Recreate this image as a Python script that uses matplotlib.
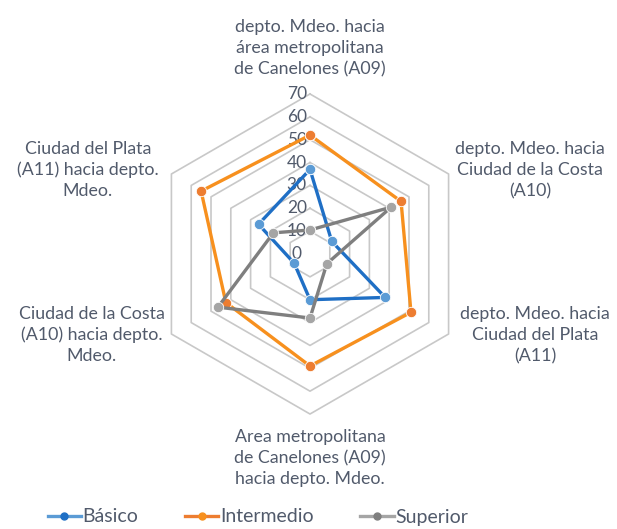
import numpy as np
import matplotlib
matplotlib.use("Agg")
import matplotlib.pyplot as plt
from matplotlib.lines import Line2D

plt.rcParams["font.family"] = ["Lato", "DejaVu Sans"]

# ---------------------------
# Data (clockwise from top)
# ---------------------------
categories = [
    "depto. Mdeo. hacia\nárea metropolitana\nde Canelones (A09)",
    "depto. Mdeo. hacia\nCiudad de la Costa\n(A10)",
    "depto. Mdeo. hacia\nCiudad del Plata\n(A11)",
    "Area metropolitana\nde Canelones (A09)\nhacia depto. Mdeo.",
    "Ciudad de la Costa\n(A10) hacia depto.\nMdeo.",
    "Ciudad del Plata\n(A11) hacia depto.\nMdeo.",
]
basico = [37, 11, 38, 20, 8, 26]
intermedio = [52, 46, 51, 49, 42.5, 55]
superior = [10.5, 41, 8.5, 28, 46.5, 18.5]
ticks = [0, 10, 20, 30, 40, 50, 60, 70]

series = [
    ("Básico", basico, "#1F6FC5", "#5B9BD5"),
    ("Intermedio", intermedio, "#F7901E", "#ED7D31"),
    ("Superior", superior, "#7F7F7F", "#A5A5A5"),
]

text_color = "#515A6B"
grid_color = "#C8C8C8"

# ---------------------------
# Geometry
# ---------------------------
W, H = 617, 529
cx, cy = 310, 254          # centre in pixels (from top)
scale = 2.286              # pixels per data unit

n = len(categories)
angles = np.pi / 2 - np.arange(n) * 2 * np.pi / n


def to_xy(values):
    v = np.asarray(values, dtype=float)
    x = v * np.cos(angles)
    y = v * np.sin(angles)
    return np.append(x, x[0]), np.append(y, y[0])


fig = plt.figure(figsize=(W / 100, H / 100), dpi=100)
ax = fig.add_axes([0, 0, 1, 1])
ax.set_xlim(-cx / scale, (W - cx) / scale)
ax.set_ylim(-(H - cy) / scale, cy / scale)
ax.set_aspect("equal")
ax.axis("off")

# hexagonal grid
for t in ticks[1:]:
    gx, gy = to_xy([t] * n)
    ax.plot(gx, gy, color=grid_color, lw=1.2, zorder=1)

# tick labels
for t in ticks:
    ax.text(-5.8, t, str(t), ha="center", va="center",
            fontsize=12.5, color=text_color, zorder=2)

# series
for name, vals, lc, mc in series:
    x, y = to_xy(vals)
    ax.plot(x, y, color=lc, lw=2.4, marker="o", markersize=7.5,
            markerfacecolor=mc, markeredgecolor="white",
            markeredgewidth=0.6, label=name, zorder=3)

# category labels (pixel positions)
label_pos = [(310, 48), (530, 170), (535, 335), (310, 458), (92, 335), (88, 170)]
for lab, (px, py) in zip(categories, label_pos):
    fig.text(px / W, 1 - py / H, lab, ha="center", va="center",
             fontsize=12.8, color=text_color, linespacing=1.38)

# legend
handles = [Line2D([0], [0], color=mc, lw=2.4, marker="o", markersize=5,
                  markerfacecolor=lc, markeredgecolor=lc)
           for _, _, lc, mc in series]
leg = fig.legend(handles, [s[0] for s in series], loc="center",
                 bbox_to_anchor=(258 / W, 1 - 517 / H), ncol=3, frameon=False,
                 fontsize=14, handlelength=1.7, handletextpad=0.1,
                 columnspacing=2.4)
for txt in leg.get_texts():
    txt.set_color(text_color)

fig.savefig("out.png", dpi=100)
plt.close(fig)
